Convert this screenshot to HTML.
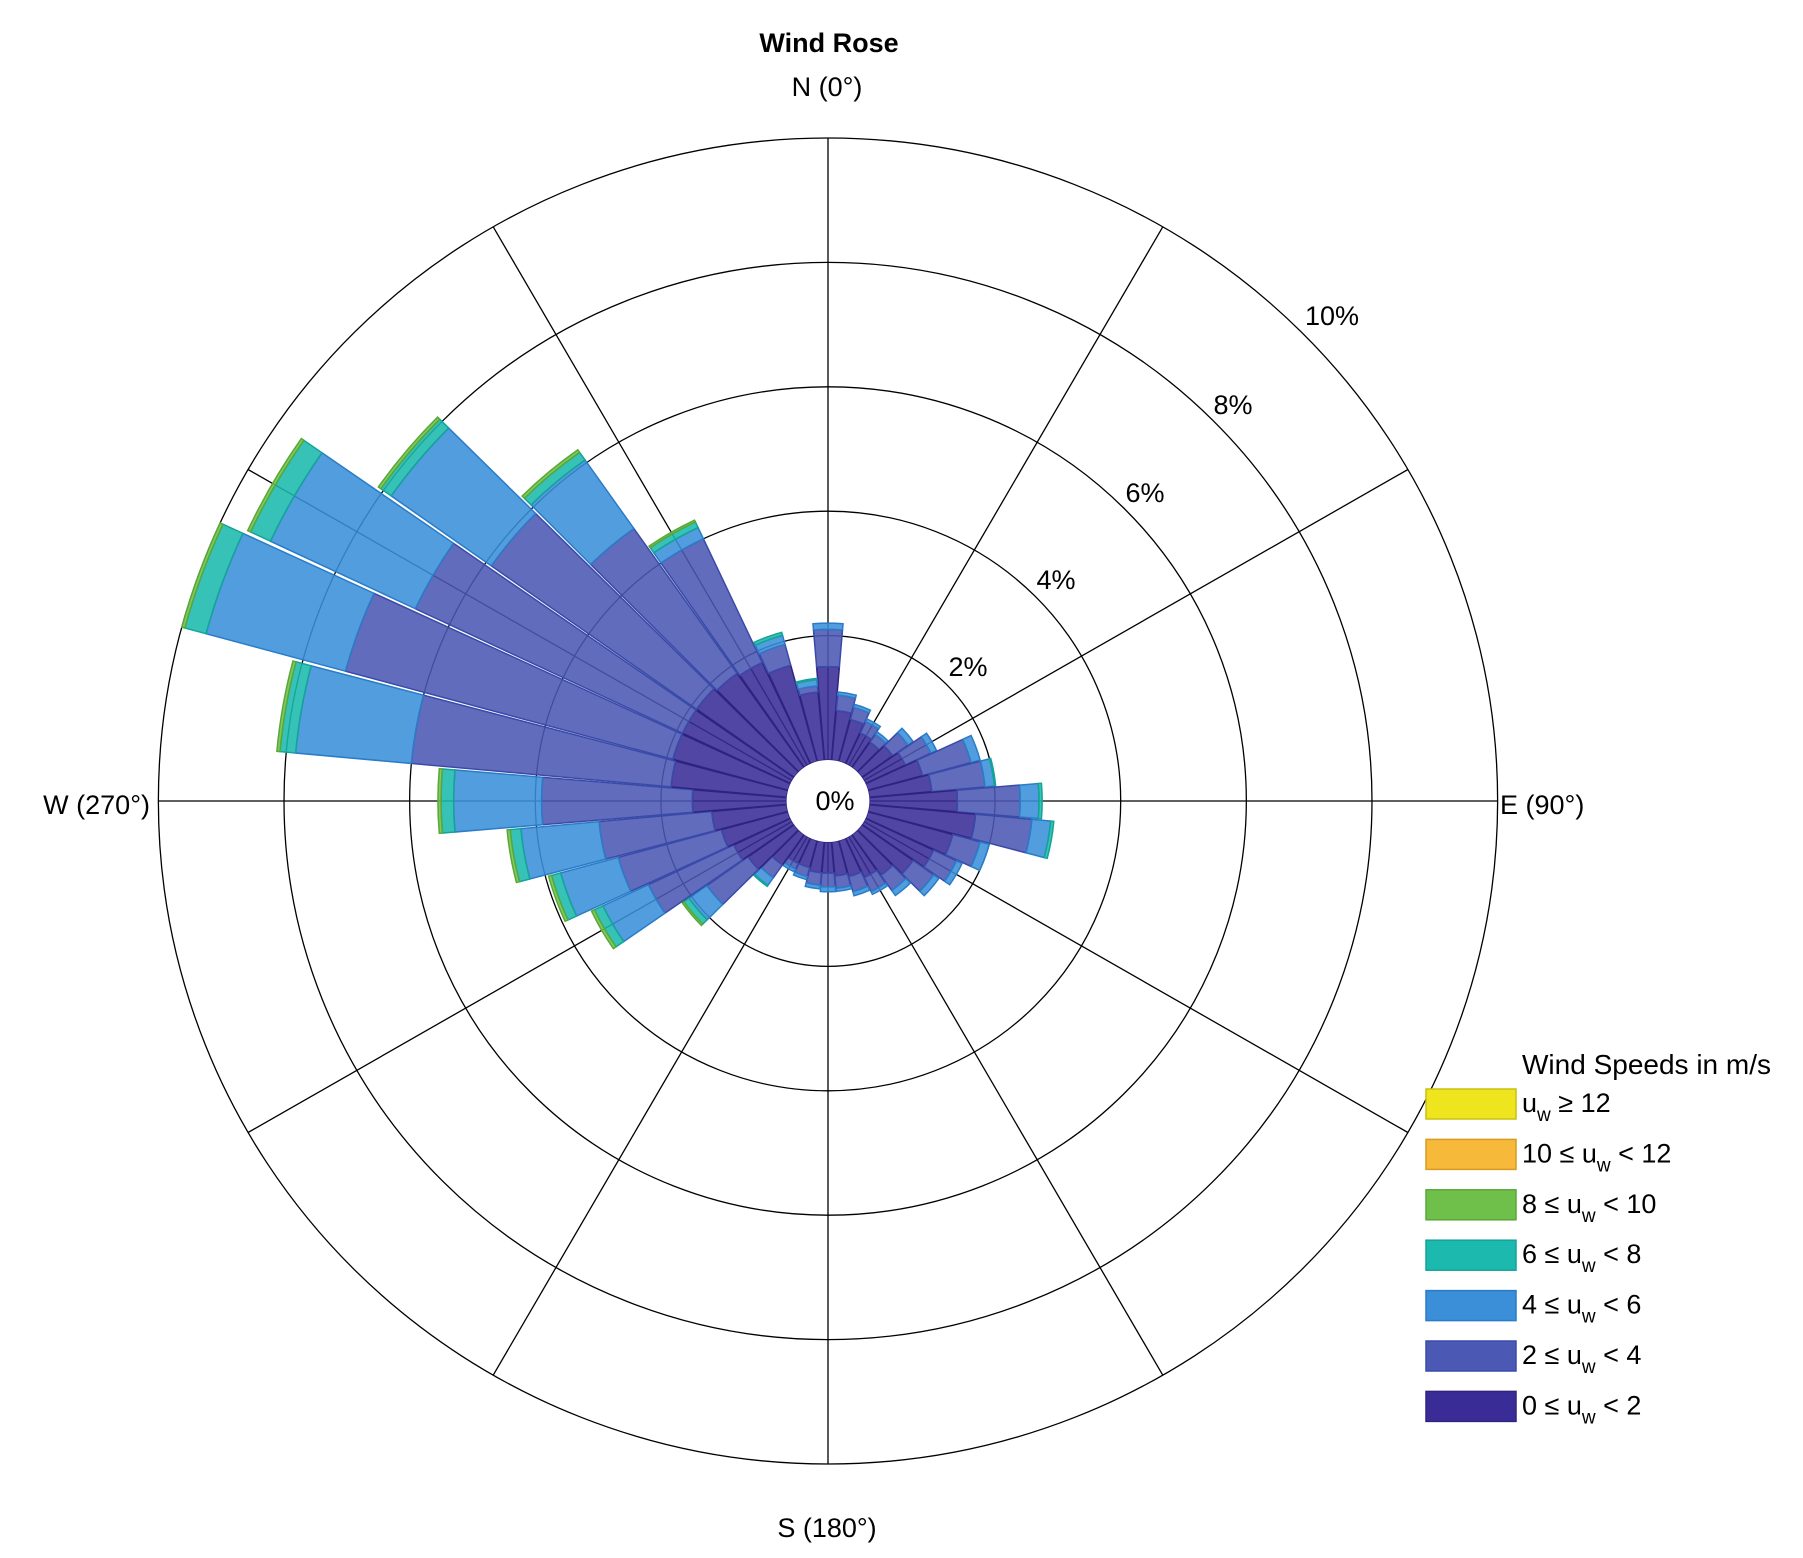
<!DOCTYPE html>
<html><head><meta charset="utf-8"><style>
html,body{margin:0;padding:0;background:#fff;}
svg{display:block;font-family:"Liberation Sans",Arial,sans-serif;}
</style></head><body>
<svg id="chart" width="1803" height="1558" viewBox="0 0 1803 1558" xmlns="http://www.w3.org/2000/svg">
<rect width="1803" height="1558" fill="#fff"/>
<g id="grid"></g>
<g id="bars"></g>
<g id="labels"></g>
<g id="legend"></g>
</svg>
<script>
const directions = [0,10,20,30,40,50,60,70,80,90,100,110,120,130,140,150,160,170,180,190,200,210,220,230,240,250,260,270,280,290,300,310,320,330,340,350];
const speed0to2 = [1.5,0.8,0.7,0.55,0.5,0.6,0.7,0.9,1.0,1.4,1.7,1.4,1.2,1.0,0.8,0.7,0.6,0.55,0.5,0.5,0.45,0.45,0.6,0.9,1.0,1.1,1.2,1.5,1.85,1.9,1.9,1.9,1.85,1.8,1.6,1.1];
const speed2to4 = [0.6,0.25,0.2,0.2,0.15,0.3,0.45,0.8,0.85,1.0,0.9,0.45,0.4,0.4,0.3,0.25,0.25,0.2,0.22,0.2,0.15,0.1,0.25,0.8,1.5,1.7,1.8,2.4,4.15,5.4,4.7,4.0,2.85,2.2,0.35,0.1];
const speed4to6 = [0.1,0.05,0.05,0.05,0.05,0.1,0.1,0.15,0.15,0.3,0.3,0.15,0.1,0.1,0.1,0.05,0.07,0.05,0.08,0.06,0.05,0.05,0.15,0.35,0.8,0.95,1.25,1.4,1.85,2.3,2.55,1.95,1.35,0.2,0.15,0.1];
const speed6to8 = [0,0,0,0,0,0,0,0,0.02,0.05,0.05,0,0,0,0,0,0,0,0,0,0,0,0.02,0.1,0.15,0.15,0.17,0.2,0.25,0.35,0.35,0.2,0.15,0.1,0.05,0.02];
const speed8to10 = [0,0,0,0,0,0,0,0,0,0,0,0,0,0,0,0,0,0,0,0,0,0,0,0.03,0.05,0.05,0.05,0.05,0.05,0.05,0.05,0.05,0.05,0.03,0,0];
const speed10to12 = new Array(36).fill(0);
const speed12up = new Array(36).fill(0);
const ringTicks = [2,4,6,8,10];
const ringLabels = ["2%","4%","6%","8%","10%"];

const NS="http://www.w3.org/2000/svg";
const cx=828, cy=801, hole=41, perPct=62.2, sx=1.01;
function R(p){return hole+p*perPct;}
function pt(r,deg){const a=deg*Math.PI/180;return [cx+r*Math.sin(a)*sx, cy-r*Math.cos(a)];}
function mk(tag,attrs,parent){const e=document.createElementNS(NS,tag);for(const k in attrs)e.setAttribute(k,attrs[k]);parent.appendChild(e);return e;}
const grid=document.getElementById('grid'), bars=document.getElementById('bars'), labels=document.getElementById('labels'), legend=document.getElementById('legend');

ringTicks.forEach((t,i)=>{
  const e=mk('ellipse',{cx:cx,cy:cy,rx:R(t)*sx,ry:R(t),fill:'none',stroke:'#000','stroke-width':1.3},grid);
  
  
});
for(let a=0;a<360;a+=30){
  const p1=pt(hole,a), p2=pt(R(10),a);
  const e=mk('line',{x1:p1[0],y1:p1[1],x2:p2[0],y2:p2[1],stroke:'#000','stroke-width':1.3},grid);
  
  
}

const layers=[speed0to2,speed2to4,speed4to6,speed6to8,speed8to10,speed10to12,speed12up];
const fills=['#3a2c97','#4b58b4','#3a8fd8','#1bb9ae','#6fc04b','#f6b93a','#efe51f'];
const strokes=['#2e2480','#3a4aa8','#2a7cc8','#14a398','#58a838','#d99a20','#c8c010'];
const half=4.8;
function sector(r1,r2,a){
  const a1=a-half,a2=a+half;
  const p1=pt(r1,a1),p2=pt(r2,a1),p3=pt(r2,a2),p4=pt(r1,a2);
  return `M${p1[0]},${p1[1]}L${p2[0]},${p2[1]}A${r2*sx},${r2} 0 0 1 ${p3[0]},${p3[1]}L${p4[0]},${p4[1]}A${r1*sx},${r1} 0 0 0 ${p1[0]},${p1[1]}Z`;
}
directions.forEach((d,i)=>{
  let cum=0;
  layers.forEach((L,k)=>{
    const v=L[i]; if(!v) return;
    const r1=R(cum), r2=R(cum+v); cum+=v;
    const e=mk('path',{d:sector(r1,r2,d),fill:fills[k],stroke:strokes[k],'stroke-width':1.5,'fill-opacity':0.88},bars);
    
    
  });
});
const h=mk('ellipse',{cx:cx,cy:cy,rx:hole*sx,ry:hole,fill:'#fff'},bars);



function txt(s,x,y,attrs,name){const e=mk('text',Object.assign({x:x,y:y,'font-size':27,fill:'#000'},attrs||{}),labels);e.textContent=s;return e;}
txt('Wind Rose',829,52,{'font-weight':'bold','text-anchor':'middle','font-size':27},'chart-title');
txt('N (0°)',827,96,{'text-anchor':'middle'},'north-label');
txt('S (180°)',827,1537,{'text-anchor':'middle'},'south-label');
txt('W (270°)',150,814,{'text-anchor':'end'},'west-label');
txt('E (90°)',1500,814,{'text-anchor':'start'},'east-label');
txt('0%',835,810,{'text-anchor':'middle'},'center-0pct-label');
const lblPos=[[968,676],[1056,589],[1145,502],[1233,414],[1332,325]];
ringLabels.forEach((s,i)=>{txt(s,lblPos[i][0],lblPos[i][1],{'text-anchor':'middle'},'ring-label-'+ringTicks[i]+'pct');});

const lx=1426;
const lt=mk('text',{x:lx+96,y:1074,'font-size':28,fill:'#000'},legend);
lt.textContent='Wind Speeds in m/s';


const legItems=[['','≥ 12',6],['10 ≤ ','< 12',5],['8 ≤ ','< 10',4],['6 ≤ ','< 8',3],['4 ≤ ','< 6',2],['2 ≤ ','< 4',1],['0 ≤ ','< 2',0]];
legItems.forEach((it,j)=>{
  const yc=1104+j*50.4;
  const g=mk('g',{},legend);
  
  
  const r=mk('rect',{x:lx,y:yc-15,width:90,height:30,fill:fills[it[2]],stroke:strokes[it[2]],'stroke-width':1.5},g);
  
  
  const t=mk('text',{x:lx+96,y:yc+8,'font-size':27,fill:'#000'},g);
  
  
  const a=document.createElementNS(NS,'tspan');a.textContent=it[0]+'u';t.appendChild(a);
  const b=document.createElementNS(NS,'tspan');b.textContent='w';b.setAttribute('font-size','19');b.setAttribute('dy','9');t.appendChild(b);
  const c=document.createElementNS(NS,'tspan');c.textContent=' '+it[1];c.setAttribute('dy','-9');t.appendChild(c);
});
</script>
</body></html>
